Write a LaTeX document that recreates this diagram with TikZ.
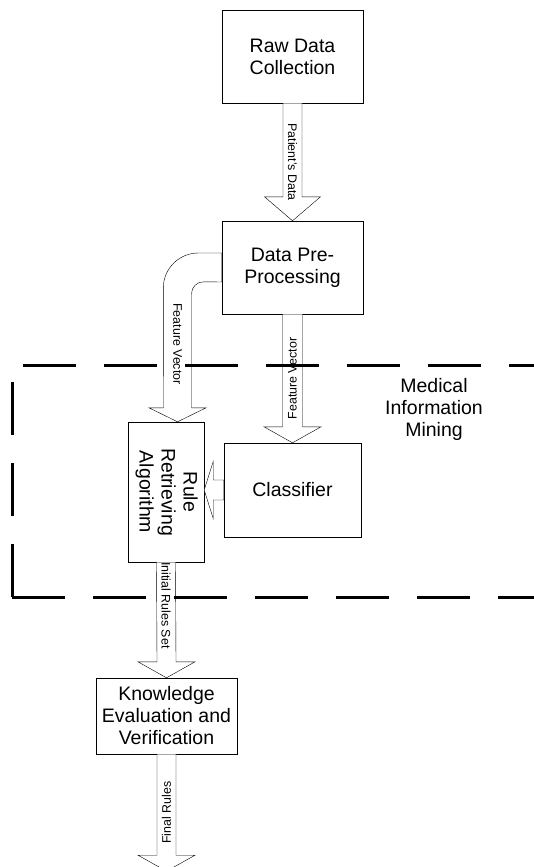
\documentclass[tikz,border=0pt]{standalone}
\usepackage{fontspec}
\setmainfont{Liberation Sans}
\usetikzlibrary{calc}

\begin{document}
\begin{tikzpicture}[x=1pt, y=1pt,
box/.style={draw, fill=white, align=center, inner sep=0, font=\fontsize{19.5}{22}\selectfont},
blk/.style={draw, fill=white},
lbl/.style={inner sep=0, font=\fontsize{12.4}{14}\selectfont},
region/.style={line width=3pt, dash pattern=on 53pt off 28pt}]
	\useasboundingbox (0,0) rectangle (534,-867);
	\node[box, minimum width=141pt, minimum height=93pt] at (292.5,-56.5) (raw) {Raw Data\\Collection};
	\node[box, minimum width=141pt, minimum height=93pt] at (292.5,-267.5) (pre) {Data Pre-\\Processing};
	\node[box, minimum width=137pt, minimum height=94pt] at (292.5,-490) (cls) {Classifier};
	\node[box, minimum width=76pt, minimum height=140pt] at (166,-492) (rule) {\rotatebox{-90}{\begin{tabular}{@{}c@{}}Rule\\Retrieving\\Algorithm\end{tabular}}};
	\node[box, minimum width=141pt, minimum height=76pt] at (166.5,-716) (know) {Knowledge\\Evaluation and\\Verification};
	\coordinate (out) at ([yshift=-117pt]know.south);
	% block arrows
	\draw[blk] ([xshift=-9.5pt]raw.south) -- ([xshift=-9.5pt,yshift=24pt]pre.north) -- ([xshift=-28pt,yshift=24pt]pre.north) -- (pre.north) -- ([xshift=28pt,yshift=24pt]pre.north) -- ([xshift=9.5pt,yshift=24pt]pre.north) -- ([xshift=9.5pt]raw.south) -- cycle;
	\draw[blk] ([xshift=-10pt]pre.south) -- ([xshift=-10pt,yshift=16pt]cls.north) -- ([xshift=-28.5pt,yshift=16pt]cls.north) -- (cls.north) -- ([xshift=28.5pt,yshift=16pt]cls.north) -- ([xshift=10pt,yshift=16pt]cls.north) -- ([xshift=10pt]pre.south) -- cycle;
	\draw[blk] ([yshift=14.5pt]pre.west) -- ++(-23.5,0) arc[start angle=90, end angle=180, radius=35] -- ([xshift=-2.5pt,yshift=14pt]rule.north) -- ([xshift=-17pt,yshift=14pt]rule.north) -- ([xshift=11.5pt]rule.north) -- ([xshift=40pt,yshift=14pt]rule.north) -- ([xshift=25.5pt,yshift=14pt]rule.north) -- ++(0,114) arc[start angle=180, end angle=90, radius=12] -- ([yshift=-14.5pt]pre.west) -- cycle;
	\draw[blk] ([yshift=10pt]cls.west) -- ([xshift=9pt,yshift=10pt]rule.east |- cls.west) -- ([xshift=9pt,yshift=28.5pt]rule.east |- cls.west) -- (rule.east |- cls.west) -- ([xshift=9pt,yshift=-28.5pt]rule.east |- cls.west) -- ([xshift=9pt,yshift=-10pt]rule.east |- cls.west) -- ([yshift=-10pt]cls.west) -- cycle;
	\draw[blk] ([xshift=-9.5pt]rule.south) -- ([xshift=-9.5pt,yshift=16pt]know.north) -- ([xshift=-28.5pt,yshift=16pt]know.north) -- (know.north) -- ([xshift=28.5pt,yshift=16pt]know.north) -- ([xshift=9.5pt,yshift=16pt]know.north) -- ([xshift=9.5pt]rule.south) -- cycle;
	\draw[blk] ([xshift=-9.5pt]know.south) -- ([xshift=-9.5pt,yshift=16pt]out) -- ([xshift=-28.5pt,yshift=16pt]out) -- (out) -- ([xshift=28.5pt,yshift=16pt]out) -- ([xshift=9.5pt,yshift=16pt]out) -- ([xshift=9.5pt]know.south) -- cycle;
	% arrow labels
	\node[lbl, rotate=-90] at ($(raw.south)!0.5!(pre.north)$) (lpat) {Patient's Data};
	\node[lbl, rotate=-90] at (177.5,-344) (lfv1) {Feature Vector};
	\node[lbl, rotate=90] at ($(pre.south)!0.5!(cls.north)$) (lfv2) {Feature Vector};
	\node[lbl, rotate=-90, anchor=west] at (rule.south) (lirs) {Initial Rules Set};
	\node[lbl, rotate=90] at ($(know.south)!0.5!(out)$) (lfin) {Final Rules};
	% mining region
	\draw[region] (12,-597) -- (12,-365) -- (535,-365) -- (535,-597);
	\draw[region] (12,-597) -- (535,-597);
	\node[align=center, inner sep=0, font=\fontsize{19.5}{22}\selectfont] at (434,-409) (mim) {Medical\\Information\\Mining};
\end{tikzpicture}
\end{document}
